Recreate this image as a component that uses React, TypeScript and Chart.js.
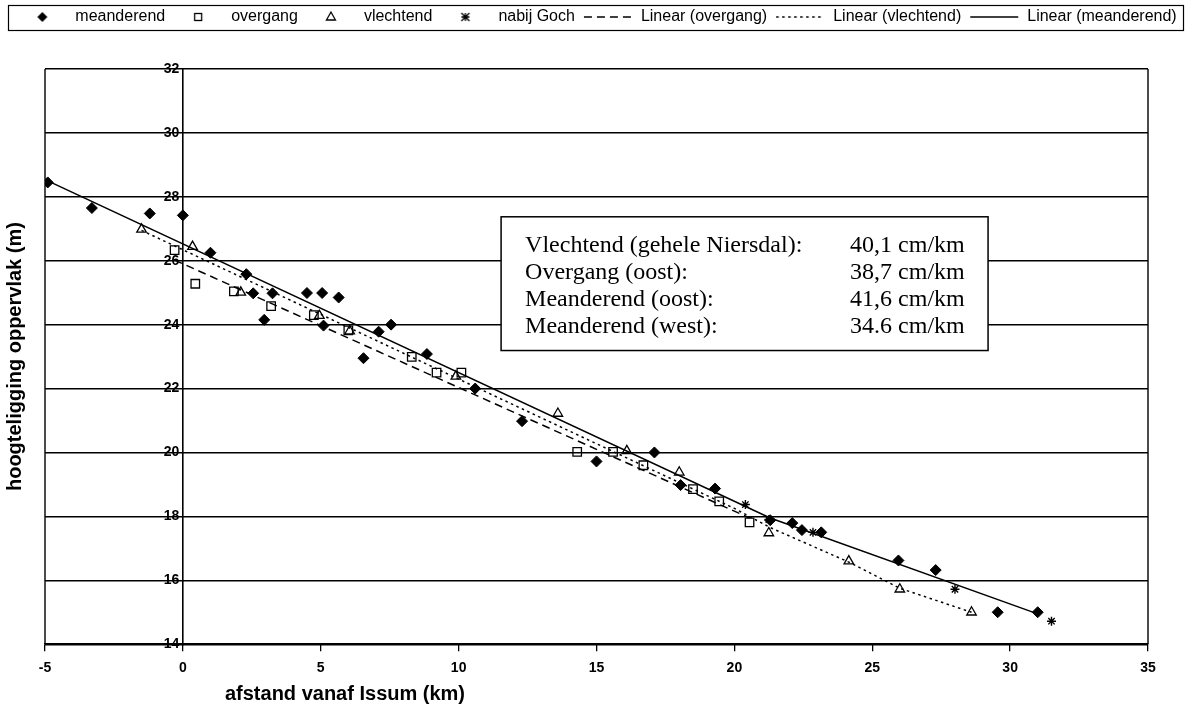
import React, { useEffect, useRef } from 'react';
import { Chart, registerables } from 'chart.js';

Chart.register(...registerables);

const FONT = '"Liberation Sans", Arial, sans-serif';
const SERIF = '"Liberation Serif", "Times New Roman", serif';

// ---- tick labels ----
const xTickValues = [-5, 0, 5, 10, 15, 20, 25, 30, 35];
const yTickValues = [14, 16, 18, 20, 22, 24, 26, 28, 30, 32];

// ---- series: meanderend (filled diamonds) ----
const meanderendX = [-4.9, -3.3, -1.2, 0.0, 1.0, 2.3, 2.55, 2.95, 3.25, 4.5, 5.05, 5.1, 5.65, 6.55, 7.1, 7.55, 8.85, 10.6, 12.3, 15.0, 17.1, 18.05, 19.3, 21.3, 22.1, 22.45, 23.15, 25.95, 27.3, 29.55, 31.0];
const meanderendY = [28.45, 27.65, 27.48, 27.42, 26.25, 25.58, 24.98, 24.15, 24.98, 24.99, 24.99, 23.97, 24.85, 22.95, 23.78, 24.0, 23.08, 22.0, 20.98, 19.72, 20.0, 18.98, 18.87, 17.88, 17.79, 17.57, 17.5, 16.62, 16.32, 15.0, 15.0];

// ---- series: overgang (open squares) ----
const overgangX = [-0.3, 0.45, 1.85, 3.2, 4.75, 6.0, 8.3, 9.2, 10.1, 14.3, 15.6, 16.7, 18.5, 19.45, 20.55];
const overgangY = [26.33, 25.28, 25.04, 24.58, 24.3, 23.82, 22.99, 22.5, 22.5, 20.02, 20.02, 19.6, 18.85, 18.47, 17.81];

// ---- series: vlechtend (open triangles) ----
const vlechtendX = [-1.5, 0.35, 2.1, 4.95, 6.05, 9.9, 13.6, 16.1, 18.0, 21.25, 24.15, 26.0, 28.6];
const vlechtendY = [26.98, 26.44, 25.01, 24.28, 23.8, 22.38, 21.22, 20.05, 19.38, 17.48, 16.6, 15.72, 15.0];

// ---- series: nabij Goch (stars) ----
const gochX = [20.4, 21.25, 22.85, 28.0, 31.5];
const gochY = [18.37, 17.9, 17.5, 15.72, 14.72];

// ---- trend lines ----
const overgangTrendX = [-0.3, 20.55];
const overgangTrendY = [26.02, 17.95];
const vlechtendTrendX = [-1.5, 20.0, 21.3, 24.2, 26.0, 28.6];
const vlechtendTrendY = [26.95, 18.25, 17.65, 16.55, 15.75, 15.0];
const meanderendTrendX = [-4.9, 21.3, 31.0];
const meanderendTrendY = [28.5, 17.95, 14.95];

// ---- texts ----
const xTitle = 'afstand vanaf Issum (km)';
const yTitle = 'hoogteligging oppervlak (m)';
const boxLabels = ['Vlechtend (gehele Niersdal):', 'Overgang (oost):', 'Meanderend (oost):', 'Meanderend (west):'];
const boxValues = ['40,1 cm/km', '38,7 cm/km', '41,6 cm/km', '34.6 cm/km'];

// text box corners in data units
const BOX_X1 = 11.54, BOX_X2 = 29.2, BOX_Y1 = 27.375, BOX_Y2 = 23.19;

const pts = (xs: number[], ys: number[]) => xs.map((x, i) => ({ x, y: ys[i] }));

type IconKind = 'diamond' | 'square' | 'triangle' | 'star' | 'dash' | 'dot' | 'solid';
const ICON_W = 50;

function makeIcon(kind: IconKind): HTMLCanvasElement {
  const c = document.createElement('canvas');
  c.width = ICON_W;
  c.height = 16;
  const g = c.getContext('2d')!;
  g.strokeStyle = '#000';
  g.fillStyle = '#000';
  const cx = ICON_W / 2, cy = 8;
  g.lineWidth = 1.3;
  if (kind === 'diamond') {
    const r = 5;
    g.beginPath();
    g.moveTo(cx, cy - r); g.lineTo(cx + r, cy); g.lineTo(cx, cy + r); g.lineTo(cx - r, cy); g.closePath();
    g.fill();
  } else if (kind === 'square') {
    g.strokeRect(cx - 3.5, cy - 3.5, 7, 7);
  } else if (kind === 'triangle') {
    g.beginPath();
    g.moveTo(cx, cy - 5); g.lineTo(cx + 4.5, cy + 3); g.lineTo(cx - 4.5, cy + 3); g.closePath();
    g.stroke();
  } else if (kind === 'star') {
    const r = 4;
    g.beginPath();
    g.moveTo(cx - r, cy - r); g.lineTo(cx + r, cy + r);
    g.moveTo(cx + r, cy - r); g.lineTo(cx - r, cy + r);
    g.moveTo(cx, cy - r); g.lineTo(cx, cy + r);
    g.moveTo(cx - r, cy); g.lineTo(cx + r, cy);
    g.stroke();
  } else {
    g.lineWidth = 1.5;
    if (kind === 'dash') g.setLineDash([8, 5]);
    if (kind === 'dot') g.setLineDash([2.5, 3.5]);
    g.beginPath();
    g.moveTo(1, cy); g.lineTo(ICON_W - 1, cy);
    g.stroke();
  }
  return c;
}

const decorPlugin = {
  id: 'decor',
  beforeInit(chart: any) {
    const legend = chart.legend;
    if (legend) {
      const origFit = legend.fit;
      legend.fit = function () {
        origFit.call(this);
        this.height += 34;
      };
    }
  },
  afterDraw(chart: any) {
    const { ctx, chartArea: ca } = chart;
    const xs = chart.scales.x;
    const ys = chart.scales.y;
    ctx.save();
    ctx.strokeStyle = '#000';
    ctx.fillStyle = '#000';
    // plot frame left/right
    ctx.lineWidth = 1.4;
    ctx.beginPath();
    ctx.moveTo(ca.left, ca.top); ctx.lineTo(ca.left, ca.bottom);
    ctx.moveTo(ca.right, ca.top); ctx.lineTo(ca.right, ca.bottom);
    ctx.stroke();
    // legend frame
    ctx.lineWidth = 1.2;
    ctx.strokeRect(8.5, 5.5, 1175, 25);
    // y title
    ctx.save();
    ctx.font = `bold 20px ${FONT}`;
    ctx.textAlign = 'center';
    ctx.textBaseline = 'middle';
    ctx.translate(15, (ca.top + ca.bottom) / 2);
    ctx.rotate(-Math.PI / 2);
    ctx.fillText(yTitle, 0, 0);
    ctx.restore();
    // x title
    ctx.font = `bold 20px ${FONT}`;
    ctx.textAlign = 'center';
    ctx.textBaseline = 'middle';
    ctx.fillText(xTitle, 345, 694);
    // text box
    const bx1 = xs.getPixelForValue(BOX_X1);
    const bx2 = xs.getPixelForValue(BOX_X2);
    const by1 = ys.getPixelForValue(BOX_Y1);
    const by2 = ys.getPixelForValue(BOX_Y2);
    ctx.fillStyle = '#fff';
    ctx.fillRect(bx1, by1, bx2 - bx1, by2 - by1);
    ctx.lineWidth = 1.5;
    ctx.strokeRect(bx1, by1, bx2 - bx1, by2 - by1);
    ctx.fillStyle = '#000';
    ctx.font = `24px ${SERIF}`;
    ctx.textAlign = 'left';
    ctx.textBaseline = 'middle';
    boxLabels.forEach((t, i) => {
      const yy = by1 + 29 + i * 27;
      ctx.fillText(t, bx1 + 24, yy);
      ctx.fillText(boxValues[i], bx1 + 349, yy);
    });
    ctx.restore();
  },
};

export default function App() {
  const ref = useRef<HTMLCanvasElement | null>(null);
  useEffect(() => {
    if (!ref.current) return;
    const icons: Record<string, HTMLCanvasElement> = {
      meanderend: makeIcon('diamond'),
      overgang: makeIcon('square'),
      vlechtend: makeIcon('triangle'),
      'nabij Goch': makeIcon('star'),
      'Linear (overgang)': makeIcon('dash'),
      'Linear (vlechtend)': makeIcon('dot'),
      'Linear (meanderend)': makeIcon('solid'),
    };
    const marker = { borderColor: '#000', showLine: false, order: 1 };
    const trend = { borderColor: '#000', backgroundColor: '#000', showLine: true, pointRadius: 0, borderWidth: 1.5, tension: 0, order: 2 };
    const chart = new Chart(ref.current, {
      type: 'scatter',
      data: {
        datasets: [
          { ...marker, label: 'meanderend', data: pts(meanderendX, meanderendY), pointStyle: 'rectRot', pointRadius: 5.5, backgroundColor: '#000', borderWidth: 1 },
          { ...marker, label: 'overgang', data: pts(overgangX, overgangY), pointStyle: 'rect', pointRadius: 6, backgroundColor: 'rgba(255,255,255,0)', borderWidth: 1.3 },
          { ...marker, label: 'vlechtend', data: pts(vlechtendX, vlechtendY), pointStyle: 'triangle', pointRadius: 5.5, backgroundColor: 'rgba(255,255,255,0)', borderWidth: 1.3 },
          { ...marker, label: 'nabij Goch', data: pts(gochX, gochY), pointStyle: 'star', pointRadius: 4.5, backgroundColor: '#000', borderWidth: 1.4 },
          { ...trend, label: 'Linear (overgang)', data: pts(overgangTrendX, overgangTrendY), borderDash: [8, 5] },
          { ...trend, label: 'Linear (vlechtend)', data: pts(vlechtendTrendX, vlechtendTrendY), borderDash: [2.5, 3.5] },
          { ...trend, label: 'Linear (meanderend)', data: pts(meanderendTrendX, meanderendTrendY) },
        ],
      } as any,
      options: {
        animation: false,
        responsive: true,
        maintainAspectRatio: false,
        layout: { padding: { top: 1, left: 5, right: 0, bottom: 38 } },
        plugins: {
          tooltip: { enabled: false },
          legend: {
            display: true,
            position: 'top',
            align: 'center',
            labels: {
              usePointStyle: true,
              pointStyleWidth: ICON_W,
              boxHeight: 16,
              padding: 8,
              color: '#000',
              font: { family: FONT, size: 16 },
              generateLabels: (c: any) =>
                c.data.datasets.map((ds: any, i: number) => ({
                  text: ds.label,
                  pointStyle: icons[ds.label],
                  datasetIndex: i,
                  hidden: false,
                  lineWidth: 0,
                  fillStyle: '#000',
                  strokeStyle: '#000',
                  fontColor: '#000',
                })),
            },
          },
        },
        scales: {
          x: {
            type: 'linear',
            position: 'bottom',
            min: -5,
            max: 35,
            afterBuildTicks: (s: any) => { s.ticks = xTickValues.map((v) => ({ value: v })); },
            grid: { drawOnChartArea: false, drawTicks: true, tickLength: 7, color: '#000', lineWidth: 1.3 },
            border: { display: true, color: '#000', width: 1.6 },
            ticks: { color: '#000', font: { family: FONT, size: 14, weight: 'bold' }, padding: 9, maxRotation: 0, autoSkip: false },
          },
          y: {
            type: 'linear',
            position: { x: 0 },
            min: 14,
            max: 32,
            afterBuildTicks: (s: any) => { s.ticks = yTickValues.map((v) => ({ value: v })); },
            grid: { color: '#000', lineWidth: 1.4, drawTicks: false },
            border: { display: true, color: '#000', width: 1.6 },
            ticks: {
              color: '#000',
              font: { family: FONT, size: 14, weight: 'bold' },
              padding: 4,
              callback: (v: any) => String(v) + '\u2005',
            },
          },
          yLeft: {
            type: 'linear',
            position: 'left',
            display: true,
            grid: { display: false },
            border: { display: false },
            ticks: { display: false },
            afterFit: (s: any) => { s.width = 40; },
          },
          yRight: {
            type: 'linear',
            position: 'right',
            display: true,
            grid: { display: false },
            border: { display: false },
            ticks: { display: false },
            afterFit: (s: any) => { s.width = 41; },
          },
        },
      } as any,
      plugins: [decorPlugin],
    });
    return () => chart.destroy();
  }, []);
  return (
    <div style={{ position: 'absolute', left: 0, top: 0, width: 1189, height: 724, background: '#fff' }}>
      <canvas ref={ref} />
    </div>
  );
}
